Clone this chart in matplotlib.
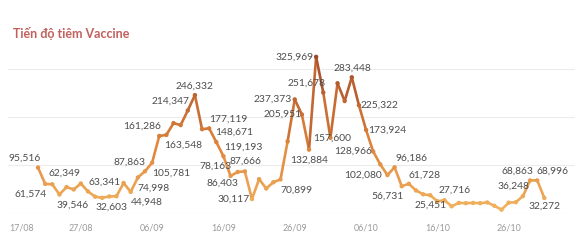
import datetime as dt
import numpy as np
import matplotlib
matplotlib.use("Agg")
import matplotlib.pyplot as plt
from matplotlib.collections import LineCollection
from matplotlib.colors import LinearSegmentedColormap, Normalize

plt.rcParams["font.family"] = ["Lato", "DejaVu Sans"]

# daily doses, starting 21/08
start_date = dt.date(2021, 8, 21)
doses = [
    95516, 61574, 60800, 39546, 55000, 50000, 62349, 46000, 35000, 32603,
    35500, 36000, 63341, 44948, 74998, 87863, 105781, 161286, 163548, 188000,
    184000, 214347, 246332, 175500, 177119, 148671, 119193, 78163, 86403, 87666,
    30117, 71500, 52000, 65000, 70899, 150000, 237373, 205951, 132884, 325969,
    251678, 157600, 271000, 234000, 283448, 225322, 173924, 128966, 102080, 80000,
    96186, 56731, 61728, 48000, 40000, 38000, 25451, 27716, 15000, 22000,
    21500, 22000, 21500, 23000, 16000, 8000, 22500, 23500, 36248, 68863,
    68996, 32272,
]
tick_labels = ["17/08", "27/08", "06/09", "16/09", "26/09", "06/10", "16/10", "26/10"]
label_idx = [0, 1, 3, 6, 9, 12, 13, 14, 15, 16, 17, 18, 21, 22, 24, 25, 26, 27,
             28, 29, 30, 34, 36, 37, 38, 39, 40, 41, 44, 45, 46, 47, 48, 50, 51,
             52, 56, 57, 68, 69, 70, 71]

# label offsets in pixels (dx, dy up)
label_offsets = [(-13, 9.4), (-15, -10), (13, -11), (-16, 10.3), (9.5, -9), (-18.6, 0.4),
                 (16, -9.8), (15.5, -10.8), (-15, 9), (18.7, -10.6), (-17.5, 9.3), (17.2, -10.3),
                 (-17.7, 8.9), (0, 9.3), (19.3, 9.2), (17.9, 9.4), (20, 9), (-15.3, 9.3),
                 (-15, -11), (0.4, 9.7), (-18.4, 0), (16.5, -10.5), (-22.2, 0), (-19.5, 0),
                 (0, -10.7), (-21.8, 0), (-16.5, 9.4), (1.4, 0), (0.8, 9.1), (21, 0), (21, 0),
                 (-20.6, 0.7), (-17, -10.5), (17.3, 9), (-14, -10.4), (16, 8.9), (-7, -4.4),
                 (9.7, 9.5), (-9.3, 9.4), (-13, 9.4), (15.6, 9.3), (0, -8)]

x = np.arange(len(doses))
y = np.array(doses, dtype=float)

cmap = LinearSegmentedColormap.from_list(
    "vacc", [(0.0, "#f2b560"), (0.45, "#de833a"), (1.0, "#a2482a")])
norm = Normalize(vmin=0, vmax=max(doses))

fig = plt.figure(figsize=(5.8, 2.48), dpi=100)
ax = fig.add_axes([8 / 580, 34.5 / 248, 567 / 580, 173.5 / 248])

pts = np.column_stack([x, y])
segs = np.stack([pts[:-1], pts[1:]], axis=1)
seg_vals = (y[:-1] + y[1:]) / 2
lc = LineCollection(segs, colors=cmap(norm(seg_vals)), linewidths=1.9,
                    capstyle="round", joinstyle="round", zorder=3)
ax.add_collection(lc)
ax.scatter(x, y, c=cmap(norm(y)), s=10, linewidths=0, zorder=4)

for i, (dx, dy) in zip(label_idx, label_offsets):
    ax.annotate(f"{doses[i]:,}", (x[i], y[i]), xytext=(dx, dy),
                textcoords="offset pixels", ha="center", va="center",
                fontsize=7.4, color="#4d4d4d", zorder=5)

ax.set_xlim(-4.21, 75.3)
ax.set_ylim(0, 361000)

tick_pos = []
for t in tick_labels:
    d = dt.datetime.strptime(t + "/2021", "%d/%m/%Y").date()
    tick_pos.append((d - start_date).days)
ax.set_xticks(tick_pos)
ax.set_xticklabels(tick_labels, fontsize=6.4, color="#9a9a9a")
ax.get_xticklabels()[0].set_horizontalalignment("left")
ax.tick_params(axis="x", length=0, pad=7)

ax.set_yticks([0, 100000, 200000, 300000])
ax.set_yticklabels([])
ax.tick_params(axis="y", length=0)
ax.grid(axis="y", color="#ececec", linewidth=0.8)
ax.set_axisbelow(True)
for s in ax.spines.values():
    s.set_visible(False)

fig.text(13 / 580, 1 - 33 / 248, "Tiến độ tiêm Vaccine", fontsize=9,
         fontweight="bold", color="#c2605e", ha="left", va="center")

fig.savefig("out.png", dpi=100)
